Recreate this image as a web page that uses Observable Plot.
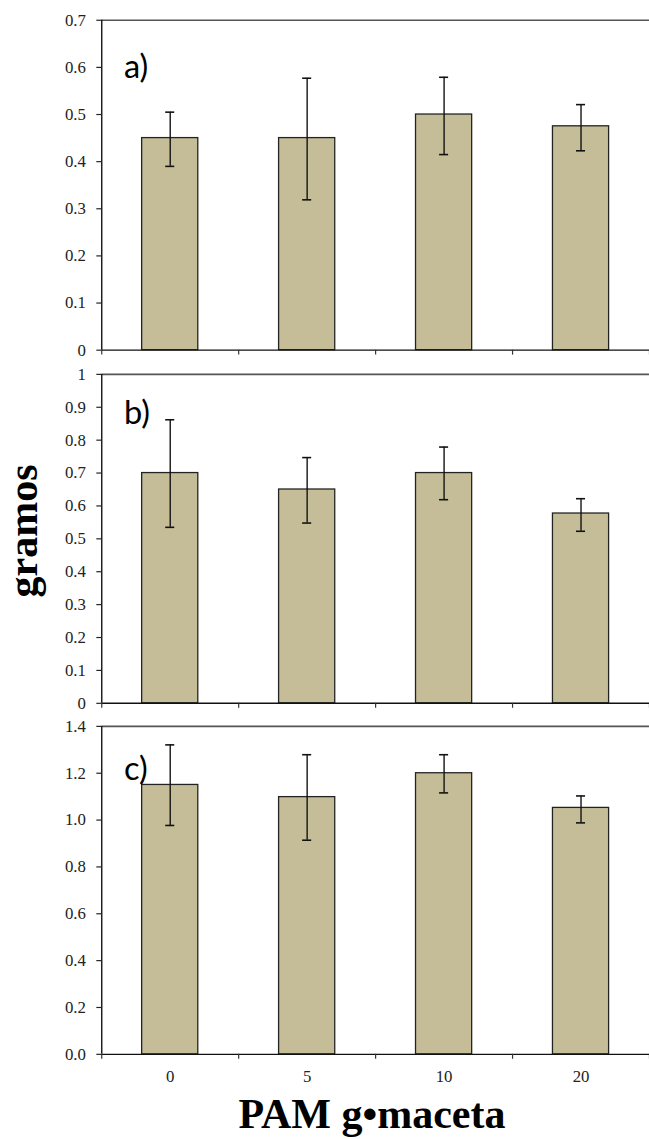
<!DOCTYPE html>
<html>
<head>
<meta charset="utf-8">
<script src="https://cdn.jsdelivr.net/npm/d3@7"></script>
<script src="https://cdn.jsdelivr.net/npm/@observablehq/plot@0.6"></script>
<style>
  html, body { margin: 0; padding: 0; background: #fff; overflow: hidden; }
  #wrap { position: relative; width: 649px; height: 1139px; overflow: hidden; background: #fff; }
  #wrap > svg { position: absolute; left: 0; }
  #wrap svg text { font-family: 'Liberation Serif', 'Times New Roman', serif; }
  #wrap svg text.plabel { font-family: Lato, 'Open Sans', sans-serif; }
</style>
</head>
<body>
<div id="wrap"></div>
<script>
// ---- data ----
const categories = ["0", "5", "10", "20"];

const meanA = [0.45, 0.45, 0.50, 0.475];
const lowA  = [0.39, 0.319, 0.415, 0.423];
const highA = [0.505, 0.577, 0.579, 0.521];

const meanB = [0.70, 0.65, 0.70, 0.577];
const lowB  = [0.535, 0.548, 0.619, 0.523];
const highB = [0.862, 0.747, 0.779, 0.622];

const meanC = [1.15, 1.098, 1.20, 1.052];
const lowC  = [0.977, 0.914, 1.116, 0.988];
const highC = [1.321, 1.279, 1.279, 1.103];

const ticksA = [0, 0.1, 0.2, 0.3, 0.4, 0.5, 0.6, 0.7];
const ticksB = [0, 0.1, 0.2, 0.3, 0.4, 0.5, 0.6, 0.7, 0.8, 0.9, 1];
const ticksC = [0, 0.2, 0.4, 0.6, 0.8, 1.0, 1.2, 1.4];

const panelLabels = ["a)", "b)", "c)"];
const yTitle = "gramos";
const xTitle = "PAM g•maceta";

// ---- drawing ----
const wrap = document.getElementById("wrap");
const barHalf = 0.205, capHalf = 0.033;
const serif = "'Liberation Serif', 'Times New Roman', serif";

function panel({means, lows, highs, yticks, fmt, label, labelDy, top, height, marginTop, marginBottom, showX}) {
  const rows = categories.map((c, i) => ({cat: c, pos: i + 0.5, mean: means[i], lo: lows[i], hi: highs[i]}));
  const ymax = yticks[yticks.length - 1];
  const marks = [
    Plot.rectY(rows, {x1: d => d.pos - barHalf, x2: d => d.pos + barHalf, y: "mean",
      fill: "#c4bd97", stroke: "#222", strokeWidth: 1.3}),
    Plot.ruleX(rows, {x: "pos", y1: "lo", y2: "hi", stroke: "#111", strokeWidth: 1.4}),
    Plot.ruleY(rows, {y: "hi", x1: d => d.pos - capHalf, x2: d => d.pos + capHalf, stroke: "#111", strokeWidth: 1.6}),
    Plot.ruleY(rows, {y: "lo", x1: d => d.pos - capHalf, x2: d => d.pos + capHalf, stroke: "#111", strokeWidth: 1.6}),
    Plot.ruleY([ymax], {stroke: "#555", strokeWidth: 1.6}),
    Plot.ruleX([0], {stroke: "#111", strokeWidth: 1.4}),
    Plot.ruleY([0], {stroke: "#111", strokeWidth: 1.4}),
    Plot.axisY({ticks: yticks, tickFormat: fmt, tickSize: 5, tickPadding: 11, label: null,
      stroke: "#222", strokeWidth: 1.2, fill: "#222", fontSize: 17, fontFamily: serif}),
    Plot.axisX({ticks: [0, 1, 2, 3, 4], tickSize: 5, tickFormat: () => "", label: null,
      stroke: "#333", strokeWidth: 1.2}),
    Plot.text([label], {frameAnchor: "top-left", text: d => d, dx: 22.5, dy: labelDy,
      textAnchor: "start", fontFamily: "Lato, 'Open Sans', sans-serif", fontSize: 33, fill: "#000",
      className: "plabel"})
  ];
  if (showX) {
    marks.push(Plot.text(rows, {x: "pos", y: 0, text: "cat", dy: 23, fill: "#222",
      fontFamily: serif, fontSize: 17}));
  }
  const svg = Plot.plot({
    width: 657,
    height,
    marginLeft: 102.5,
    marginRight: 0,
    marginTop,
    marginBottom,
    x: {type: "linear", domain: [0, 4], axis: null},
    y: {domain: [0, ymax], axis: null},
    style: {fontFamily: serif, fontSize: "17px", color: "#222", background: "transparent", overflow: "visible"},
    marks
  });
  svg.style.position = "absolute";
  svg.style.top = top + "px";
  svg.style.fontFamily = serif;
  svg.style.fontSize = "17px";
  svg.querySelectorAll("text").forEach(t => {
    if (t.closest("g") && t.textContent.includes(")")) {
      t.style.fontFamily = "Lato, 'Open Sans', sans-serif";
    } else {
      t.style.fontFamily = serif;
    }
  });
  wrap.appendChild(svg);
}

panel({means: meanA, lows: lowA, highs: highA, yticks: ticksA, fmt: d => d === 0 ? "0" : d3.format(".1f")(d),
  label: panelLabels[0], labelDy: 35.5, top: 0, height: 364, marginTop: 20, marginBottom: 10, showX: false});
panel({means: meanB, lows: lowB, highs: highB, yticks: ticksB, fmt: d => (d === 0 || d === 1) ? String(d) : d3.format(".1f")(d),
  label: panelLabels[1], labelDy: 26.5, top: 364, height: 352, marginTop: 10, marginBottom: 9, showX: false});
panel({means: meanC, lows: lowC, highs: highC, yticks: ticksC, fmt: d3.format(".1f"),
  label: panelLabels[2], labelDy: 31, top: 716, height: 423, marginTop: 10, marginBottom: 81, showX: true});

// titles overlay
const ns = "http://www.w3.org/2000/svg";
const ov = document.createElementNS(ns, "svg");
ov.setAttribute("width", 649); ov.setAttribute("height", 1139);
ov.style.position = "absolute"; ov.style.top = "0"; ov.style.left = "0";
const t1 = document.createElementNS(ns, "text");
t1.setAttribute("transform", "translate(37,531) rotate(-90)");
t1.setAttribute("text-anchor", "middle");
t1.setAttribute("font-family", "'Liberation Serif', serif");
t1.setAttribute("font-weight", "bold");
t1.setAttribute("font-size", "42");
t1.textContent = yTitle;
ov.appendChild(t1);
const t2 = document.createElementNS(ns, "text");
t2.setAttribute("x", 372); t2.setAttribute("y", 1128);
t2.setAttribute("text-anchor", "middle");
t2.setAttribute("font-family", "'Liberation Serif', serif");
t2.setAttribute("font-weight", "bold");
t2.setAttribute("font-size", "42");
t2.textContent = xTitle;
ov.appendChild(t2);
wrap.appendChild(ov);
</script>
</body>
</html>
